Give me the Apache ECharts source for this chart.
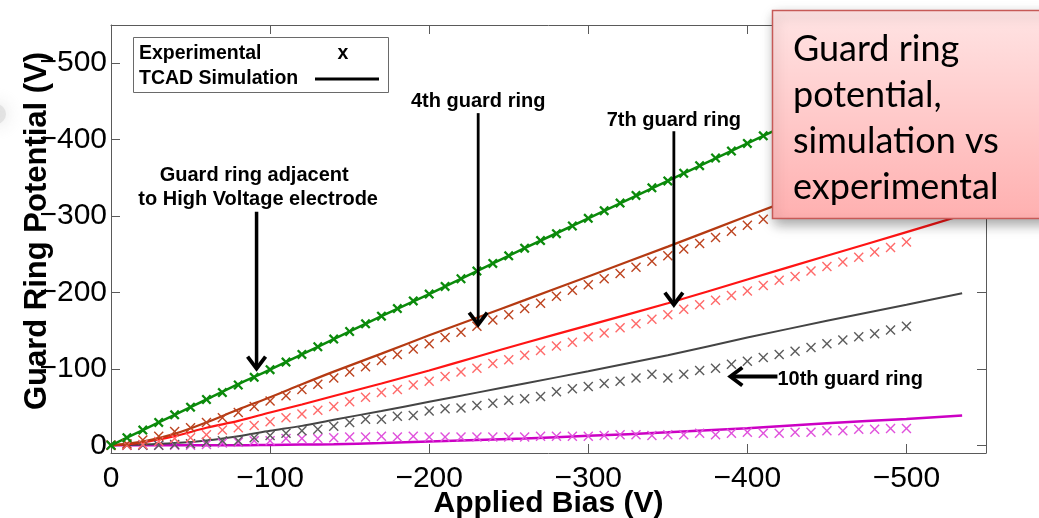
<!DOCTYPE html>
<html>
<head>
<meta charset="utf-8">
<script src="https://cdn.jsdelivr.net/npm/echarts@6/dist/echarts.min.js"></script>
<style>
  html, body { margin: 0; padding: 0; background: #fff; }
  #chart { width: 1039px; height: 518px; }
</style>
</head>
<body>
<div id="chart"></div>
<script>
// applied bias (V) of the measured points
const biasExp = [0, -10, -20, -30, -40, -50, -60, -70, -80, -90, -100, -110, -120, -130, -140, -150, -160, -170, -180, -190,
  -200, -210, -220, -230, -240, -250, -260, -270, -280, -290, -300, -310, -320, -330, -340, -350, -360, -370, -380, -390,
  -400, -410, -420, -430, -440, -450, -460, -470, -480, -490, -500]
// applied bias (V) of the TCAD curves
const biasSim = [0, -20, -40, -60, -80, -100, -120, -140, -170, -200, -230, -260, -300, -350, -400, -450, -500, -535]

// guard ring adjacent to the HV electrode (green)
const adjacentExp = [0, -10, -20, -30, -40, -50, -60, -69, -79, -89, -99, -109, -119, -129, -139, -149, -159, -169, -179, -189,
  -198, -208, -218, -228, -238, -248, -258, -268, -277, -287, -297, -307, -317, -327, -337, -346, -356, -366, -376, -385,
  -395, -405, -415, -425, -434, -444, -454, -464, -473, -483, -493]
const adjacentSim = [0, -20, -40, -60, -80, -99, -119, -139, -169, -198, -228, -258, -297, -346, -395, -444, -493, -527]

// 4th guard ring (brown)
const fourthExp = [0, -2, -7, -12, -18, -23, -30, -36, -43, -51, -58, -65, -73, -80, -88, -96, -103, -111, -119, -126,
  -133, -141, -148, -156, -164, -171, -179, -186, -195, -203, -210, -218, -225, -233, -241, -248, -257, -264, -272, -280,
  -288, -296, -304, -311, -319, -327, -334, -342, -349, -357, -364]
const fourthSim = [0, -5, -15, -30, -47, -63, -80, -96.5, -120, -144, -167, -190, -221, -260, -300, -339, -378, -405]

// 7th guard ring (red)
const seventhExp = [0, 0, -1, -5, -9, -10, -14, -20, -23, -26, -31, -36, -41, -46, -51, -57, -63, -69, -73, -79,
  -84, -90, -96, -101, -107, -112, -118, -124, -130, -135, -142, -147, -154, -159, -165, -171, -178, -184, -190, -196,
  -202, -209, -216, -221, -228, -234, -240, -246, -253, -259, -266]
const seventhSim = [0, -4, -12, -23, -32, -43, -53.5, -64.5, -81, -98, -116, -134, -157, -186, -217, -248, -279, -301]

// 10th guard ring (grey)
const tenthExp = [0, 0, 0, 0, -1, -2, -4, -6, -6, -10, -13, -16, -19, -21, -25, -30, -34, -34, -38, -39,
  -45, -48, -49, -52, -55, -59, -61, -64, -70, -74, -77, -81, -84, -88, -93, -88, -93, -98, -101, -106,
  -110, -115, -119, -123, -128, -133, -138, -142, -146, -151, -156]
const tenthSim = [0, -1, -3, -6.5, -12, -19, -25.5, -33.5, -45, -57, -69, -81, -97, -118, -141, -163, -184, -199]

// outermost guard ring (magenta)
const outerExp = [0, 0, 0, 0, 0, 0, -1, -3, -4, -6, -6, -9, -9, -9, -10, -11, -11, -12, -11, -12,
  -11, -11, -11, -11, -11, -11, -11, -12, -12, -12, -12, -13, -14, -14, -13, -14, -14, -16, -14, -16,
  -17, -16, -16, -17, -17, -19, -19, -21, -21, -22, -22]
const outerSim = [0, 0, 0, 0, 0, -0.5, -1, -1.5, -3, -5, -7, -9, -12.5, -17, -22.5, -29, -34.5, -39]

const font = '"Liberation Sans", Arial, Helvetica, sans-serif'
const thinCross = 'path://M0,1L1,0L5,4L9,0L10,1L6,5L10,9L9,10L5,6L1,10L0,9L4,5Z'
const boldCross = 'path://M0,1.6L1.6,0L5,3.4L8.4,0L10,1.6L6.6,5L10,8.4L8.4,10L5,6.6L1.6,10L0,8.4L3.4,5Z'

const rings = [
  {exp: outerExp, sim: outerSim, line: '#cc00c4', mark: '#e052dc', width: 2.5, symbol: thinCross},
  {exp: tenthExp, sim: tenthSim, line: '#444444', mark: '#5c5c5c', width: 2, symbol: thinCross},
  {exp: seventhExp, sim: seventhSim, line: '#ff1414', mark: '#ff6a6a', width: 2.2, symbol: thinCross},
  {exp: fourthExp, sim: fourthSim, line: '#b53a12', mark: '#bd4420', width: 2.2, symbol: thinCross},
  {exp: adjacentExp, sim: adjacentSim, line: '#0b8a0b', mark: '#0b8a0b', width: 2.5, symbol: boldCross}
]

function pairs (xs, ys) {
  return xs.map((x, i) => [x, ys[i]])
}

function tickLabel (v) {
  if (v % 100 !== 0) return ''
  return v === 0 ? '0' : '\u2212' + Math.abs(v)
}

function axis (extra) {
  return Object.assign({
    type: 'value',
    inverse: true,
    splitNumber: 5,
    nameMoveOverlap: false,
    splitLine: {show: false},
    axisLine: {show: true, onZero: false, lineStyle: {color: '#5a5a5a', width: 1}},
    axisTick: {show: true, inside: true, length: 9, lineStyle: {color: '#5a5a5a', width: 1}},
    axisLabel: {show: false}
  }, extra)
}

const labelStyle = {show: true, fontFamily: font, fontSize: 30, color: '#000', formatter: tickLabel}
const titleStyle = {fontFamily: font, fontSize: 30, fontWeight: 'bold', color: '#000'}

const series = []
rings.forEach(r => {
  series.push({
    type: 'line',
    data: pairs(biasSim, r.sim),
    showSymbol: false,
    smooth: 0.3,
    silent: true,
    lineStyle: {color: r.line, width: r.width},
    z: 2
  })
  series.push({
    type: 'scatter',
    data: pairs(biasExp, r.exp),
    symbol: r.symbol,
    symbolSize: 10,
    silent: true,
    itemStyle: {color: r.mark, opacity: 1},
    z: 3
  })
})

const chart = echarts.init(document.getElementById('chart'))
chart.setOption({
  animation: false,
  grid: {left: 111, right: 53, top: 25, bottom: 65, containLabel: false, outerBoundsMode: 'none'},
  xAxis: [
    axis({
      min: -550, max: 0, position: 'bottom',
      axisLabel: Object.assign({margin: 11}, labelStyle),
      name: 'Applied Bias (V)', nameLocation: 'middle', nameGap: 36, nameTextStyle: titleStyle
    }),
    axis({min: -550, max: 0, position: 'top'})
  ],
  yAxis: [
    axis({
      min: -550, max: 10, position: 'left',
      axisLabel: Object.assign({margin: 4}, labelStyle),
      name: 'Guard Ring Potential (V)', nameLocation: 'middle', nameGap: 58,
      nameTextStyle: Object.assign({}, titleStyle, {fontSize: 31, padding: [0, 0, 0, 16]})
    }),
    axis({min: -550, max: 10, position: 'right'})
  ],
  series: series
})

// annotations are placed in data coordinates
const arrows = [
  {from: [-91.5, -305.5], to: [-91.5, -100.5], width: 3.5},
  {from: [-230.8, -434.7], to: [-230.8, -158], width: 2.8},
  {from: [-353.8, -411], to: [-353.8, -184], width: 2.8},
  {from: [-418.9, -90], to: [-389.3, -90], width: 4}
]
const notes = [
  {text: 'Guard ring adjacent', at: [-90, -343.3], align: 'center'},
  {text: 'to High Voltage electrode', at: [-92.5, -312], align: 'center'},
  {text: '4th guard ring', at: [-230.8, -441.3], align: 'center'},
  {text: '7th guard ring', at: [-353.8, -416.4], align: 'center'},
  {text: '10th guard ring', at: [-418.9, -77], align: 'left'}
]

const toPx = p => chart.convertToPixel({gridIndex: 0}, p)
const graphic = []

// soft grey smudge at the left edge
graphic.push({
  type: 'circle', shape: {cx: -4, cy: 114, r: 10}, z: 0,
  style: {fill: 'rgba(215,215,215,0.6)', shadowBlur: 18, shadowColor: 'rgba(190,190,190,0.8)'}
})

arrows.forEach(a => {
  const p0 = toPx(a.from)
  const p1 = toPx(a.to)
  const dx = p1[0] - p0[0]
  const dy = p1[1] - p0[1]
  const len = Math.sqrt(dx * dx + dy * dy)
  const ux = dx / len
  const uy = dy / len
  graphic.push({
    type: 'line', z: 50,
    shape: {x1: p0[0], y1: p0[1], x2: p1[0] - ux * 1.5, y2: p1[1] - uy * 1.5},
    style: {stroke: '#000', lineWidth: a.width}
  })
  graphic.push({
    type: 'polyline', z: 50,
    shape: {points: [
      [p1[0] - ux * 12 - uy * 9, p1[1] - uy * 12 + ux * 9],
      [p1[0], p1[1]],
      [p1[0] - ux * 12 + uy * 9, p1[1] - uy * 12 - ux * 9]
    ]},
    style: {stroke: '#000', lineWidth: 3.8, fill: null, lineJoin: 'miter'}
  })
})

notes.forEach(n => {
  const p = toPx(n.at)
  graphic.push({
    type: 'text', z: 50,
    style: {
      text: n.text, x: p[0], y: p[1] - 7,
      font: 'bold 20px ' + font, fill: '#000',
      align: n.align, textAlign: n.align, verticalAlign: 'middle', textVerticalAlign: 'middle'
    }
  })
})

// legend box
graphic.push({
  type: 'rect', z: 60, shape: {x: 133.5, y: 37.5, width: 255, height: 55},
  style: {fill: '#fff', stroke: '#6a6a6a', lineWidth: 1}
})
const legendText = [
  {text: 'Experimental', x: 139, y: 54, align: 'left'},
  {text: 'x', x: 343, y: 54, align: 'center'},
  {text: 'TCAD Simulation', x: 139, y: 79, align: 'left'}
]
legendText.forEach(t => {
  graphic.push({
    type: 'text', z: 61,
    style: {
      text: t.text, x: t.x, y: t.y, font: 'bold 19.5px ' + font, fill: '#000',
      align: t.align, textAlign: t.align, verticalAlign: 'middle', textVerticalAlign: 'middle'
    }
  })
})
graphic.push({
  type: 'line', z: 61, shape: {x1: 315, y1: 79, x2: 379, y2: 79},
  style: {stroke: '#000', lineWidth: 3}
})

// callout
graphic.push({
  type: 'rect', z: 80, shape: {x: 772.5, y: 10.5, width: 300, height: 208},
  style: {
    fill: new echarts.graphic.LinearGradient(0, 0, 0, 1, [
      {offset: 0, color: '#ffe4e4'},
      {offset: 1, color: '#ffb0b0'}
    ]),
    stroke: '#c65a57', lineWidth: 1.5,
    shadowBlur: 12, shadowOffsetX: 2, shadowOffsetY: 5, shadowColor: 'rgba(0,0,0,0.35)'
  }
})
graphic.push({
  type: 'text', z: 81,
  style: {
    text: 'Guard ring\npotential,\nsimulation vs\nexperimental',
    x: 793, y: 26, font: '36px Lato, "Open Sans", sans-serif', lineHeight: 46, fill: '#000',
    align: 'left', textAlign: 'left', verticalAlign: 'top', textVerticalAlign: 'top'
  }
})

chart.setOption({graphic: graphic})
</script>
</body>
</html>
